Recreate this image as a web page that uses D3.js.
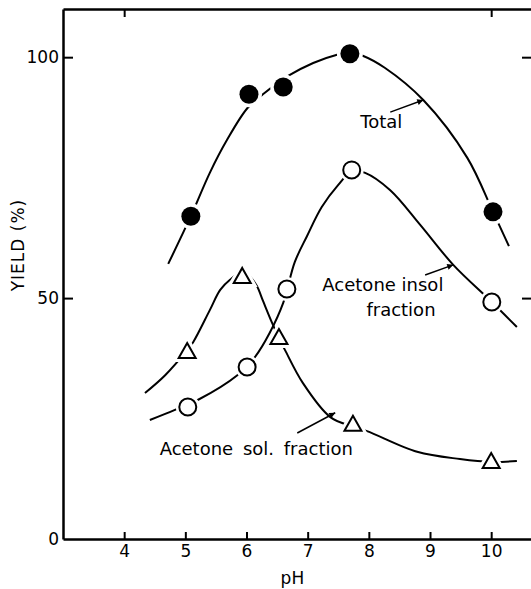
<!DOCTYPE html>
<html>
<head>
<meta charset="utf-8">
<script src="https://cdn.jsdelivr.net/npm/d3@7"></script>
<style>
  body { margin: 0; background: #fff; }
  text { font-family: "DejaVu Sans", sans-serif; fill: #000; }
</style>
</head>
<body>
<script>
// measured points (pH, yield %)
const totalPH = [5.09, 6.04, 6.60, 7.69, 10.03];
const totalYield = [67.0, 92.3, 93.8, 100.7, 67.9];
const insolPH = [5.04, 6.01, 6.66, 7.72, 10.01];
const insolYield = [27.4, 35.7, 51.9, 76.6, 49.2];
const solPH = [5.03, 5.93, 6.53, 7.74, 10.00];
const solYield = [38.8, 54.4, 41.7, 23.7, 16.0];

// hand-drawn fitted curves
const totalCurvePH = [4.72, 5.09, 5.40, 5.68, 6.02, 6.30, 6.68, 7.09, 7.48, 7.69, 7.90, 8.26, 8.89, 9.61, 10.03, 10.29];
const totalCurveY = [57.1, 67.0, 76.0, 82.8, 89.5, 92.6, 96.1, 98.8, 100.5, 101.0, 100.3, 97.8, 91.1, 79.1, 67.9, 60.8];
const insolCurvePH = [4.42, 4.83, 5.21, 5.85, 6.14, 6.38, 6.60, 6.79, 6.99, 7.23, 7.50, 7.73, 7.94, 8.35, 8.84, 9.38, 10.01, 10.42];
const insolCurveY = [24.7, 26.8, 28.9, 34.0, 37.8, 42.8, 49.0, 57.5, 62.9, 68.9, 73.5, 76.4, 76.0, 72.4, 65.2, 56.9, 49.2, 44.0];
const solCurvePH = [4.34, 4.67, 5.03, 5.13, 5.40, 5.57, 5.73, 5.93, 6.06, 6.17, 6.27, 6.42, 6.53, 6.63, 6.92, 7.37, 7.74, 7.97, 8.79, 9.49, 10.00, 10.42];
const solCurveY = [30.3, 34.0, 39.2, 40.9, 47.5, 51.7, 53.8, 55.4, 54.4, 52.5, 49.4, 44.8, 41.7, 39.2, 32.4, 25.3, 23.3, 22.4, 18.1, 16.6, 16.0, 16.2];

const xTicks = [4, 5, 6, 7, 8, 9, 10];
const yTicks = [0, 50, 100];

// labels with arrows: text anchor point and arrow from -> to (data coords)
const labelText = ['Total', 'Acetone insol', 'fraction', 'Acetone sol. fraction'];
const labelPH = [7.86, 7.24, 7.96, 4.58];
const labelY = [85.3, 51.5, 46.3, 17.5];
const arrowFromPH = [8.35, 8.92, 6.83];
const arrowFromY = [88.6, 54.8, 22.0];
const arrowToPH = [8.89, 9.38, 7.45];
const arrowToY = [91.1, 56.9, 26.2];

const W = 531, H = 589;
const svg = d3.select('body').append('svg')
  .attr('width', W)
  .attr('height', H);

const x = d3.scaleLinear().domain([3, 10.7]).range([63, 534]);
const y = d3.scaleLinear().domain([0, 110]).range([539, 9]);

// arrowhead
svg.append('defs').append('marker')
  .attr('id', 'arr')
  .attr('viewBox', '0 0 10 10')
  .attr('refX', 10).attr('refY', 5)
  .attr('markerWidth', 9).attr('markerHeight', 6)
  .attr('markerUnits', 'userSpaceOnUse')
  .attr('orient', 'auto')
  .append('path')
  .attr('d', 'M0,0 L10,5 L0,10 Z')
  .attr('fill', '#000');

// axes
const bottomAxis = svg.append('g')
  .attr('transform', `translate(0,${y(0)})`)
  .call(d3.axisBottom(x).tickValues(xTicks).tickSize(-7).tickPadding(6).tickSizeOuter(0));
bottomAxis.selectAll('text').style('font-size', '17px');

const leftAxis = svg.append('g')
  .attr('transform', `translate(${x(3)},0)`)
  .call(d3.axisLeft(y).tickValues(yTicks).tickSize(-10).tickPadding(4).tickSizeOuter(0));
leftAxis.selectAll('text').style('font-size', '17px');
leftAxis.selectAll('.tick').filter(d => d === 0).select('line').remove();

svg.append('g')
  .attr('transform', `translate(0,${y(110)})`)
  .call(d3.axisTop(x).tickValues([4, 10]).tickSize(-8).tickFormat('').tickSizeOuter(0));

svg.append('g')
  .attr('transform', `translate(${x(10.7)},0)`)
  .call(d3.axisRight(y).tickValues([50, 100]).tickSize(-12).tickFormat('').tickSizeOuter(0));

svg.selectAll('.domain').attr('stroke-width', 2.5);
svg.selectAll('.tick line').attr('stroke-width', 2);

svg.append('text')
  .attr('x', x(6.75)).attr('y', 584)
  .attr('text-anchor', 'middle')
  .style('font-size', '17px')
  .text('pH');

svg.append('text')
  .attr('transform', `translate(24,${y(61)}) rotate(-90)`)
  .attr('text-anchor', 'middle')
  .style('font-size', '17px')
  .style('letter-spacing', '1px')
  .text('YIELD (%)');

// curves
const line = d3.line()
  .x(d => x(d[0]))
  .y(d => y(d[1]))
  .curve(d3.curveCatmullRom.alpha(0.5));

const curves = [
  d3.zip(totalCurvePH, totalCurveY),
  d3.zip(insolCurvePH, insolCurveY),
  d3.zip(solCurvePH, solCurveY)
];
svg.selectAll('.curve')
  .data(curves)
  .enter()
  .append('path')
  .attr('class', 'curve')
  .attr('d', line)
  .attr('fill', 'none')
  .attr('stroke', '#000')
  .attr('stroke-width', 2);

// markers
const tri = 'M0,-9 L8.5,6 L-8.5,6 Z';
const solPts = d3.zip(solPH, solYield);
const insolPts = d3.zip(insolPH, insolYield);
const totalPts = d3.zip(totalPH, totalYield);

// white halos so the curves stop short of the symbols
svg.selectAll('.haloT').data(solPts).enter().append('path')
  .attr('transform', d => `translate(${x(d[0])},${y(d[1])})`)
  .attr('d', tri).attr('fill', '#fff').attr('stroke', '#fff').attr('stroke-width', 8);
svg.selectAll('.haloO').data(insolPts).enter().append('circle')
  .attr('cx', d => x(d[0])).attr('cy', d => y(d[1])).attr('r', 12).attr('fill', '#fff');
svg.selectAll('.haloF').data(totalPts).enter().append('circle')
  .attr('cx', d => x(d[0])).attr('cy', d => y(d[1])).attr('r', 13).attr('fill', '#fff');

svg.selectAll('.tri').data(solPts).enter().append('path')
  .attr('transform', d => `translate(${x(d[0])},${y(d[1])})`)
  .attr('d', tri).attr('fill', '#fff').attr('stroke', '#000').attr('stroke-width', 2);
svg.selectAll('.open').data(insolPts).enter().append('circle')
  .attr('cx', d => x(d[0])).attr('cy', d => y(d[1])).attr('r', 8.5)
  .attr('fill', '#fff').attr('stroke', '#000').attr('stroke-width', 2);
svg.selectAll('.filled').data(totalPts).enter().append('circle')
  .attr('cx', d => x(d[0])).attr('cy', d => y(d[1])).attr('r', 9.5)
  .attr('fill', '#000');

// labels
labelText.forEach((t, i) => {
  svg.append('text')
    .attr('x', x(labelPH[i])).attr('y', y(labelY[i]))
    .style('font-size', '18px')
    .style('word-spacing', i === 3 ? '4px' : '0px')
    .text(t);
});
arrowFromPH.forEach((p, i) => {
  svg.append('line')
    .attr('x1', x(p)).attr('y1', y(arrowFromY[i]))
    .attr('x2', x(arrowToPH[i])).attr('y2', y(arrowToY[i]))
    .attr('stroke', '#000').attr('stroke-width', 1.5)
    .attr('marker-end', 'url(#arr)');
});
</script>
</body>
</html>
